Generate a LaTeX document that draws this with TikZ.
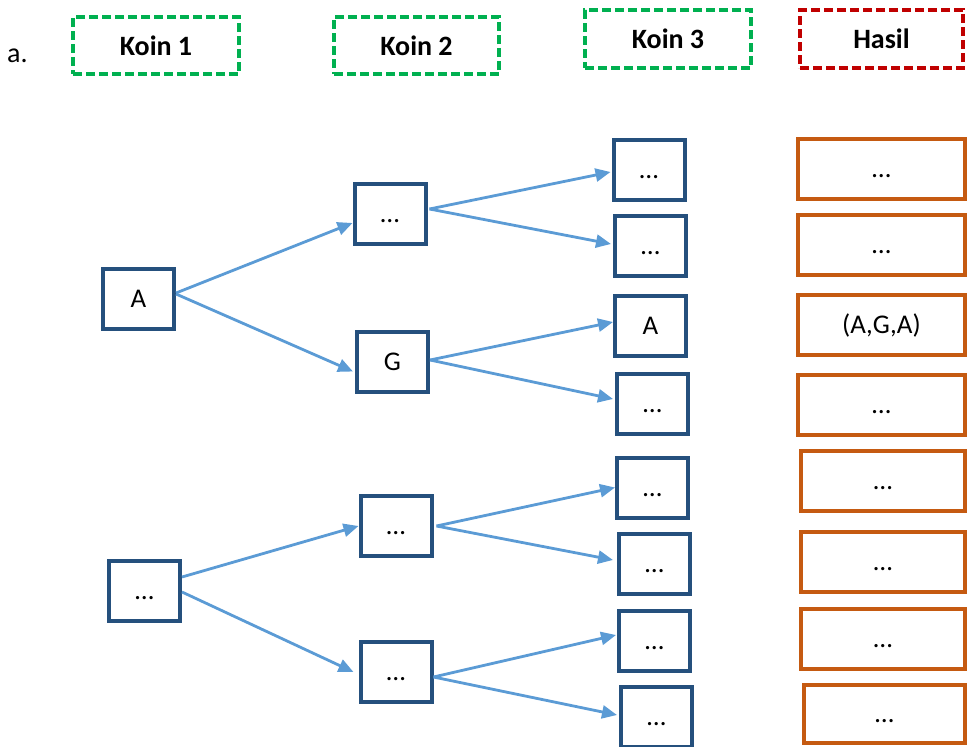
\documentclass[tikz,border=0pt]{standalone}
\usepackage{fontspec}
\setmainfont{Carlito}
\usetikzlibrary{arrows.meta}
\definecolor{boxblue}{RGB}{37,80,125}
\definecolor{arrblue}{RGB}{91,155,213}
\definecolor{resorange}{RGB}{197,90,17}
\definecolor{hdrgreen}{RGB}{0,176,80}
\definecolor{hdrred}{RGB}{192,0,0}
\tikzset{
  bbox/.style={draw=boxblue, line width=4pt, rectangle, inner sep=0pt,
    minimum width=71pt, minimum height=60pt,
    font=\fontsize{27}{32}\selectfont, text height=17.4pt, text depth=0pt},
  rbox/.style={draw=resorange, line width=4pt, rectangle, inner sep=0pt,
    minimum height=60pt,
    font=\fontsize{27}{32}\selectfont, text height=17.4pt, text depth=0pt},
  hbox/.style={line width=3.6pt, dash pattern=on 9pt off 4pt, rectangle, inner sep=0pt,
    minimum height=57pt,
    font=\bfseries\fontsize{28}{32}\selectfont, text height=19pt, text depth=0pt},
  arr/.style={draw=arrblue, line width=2.8pt, -{Triangle[length=15pt,width=13pt]}}
}
\begin{document}
\begin{tikzpicture}[x=1pt,y=-1pt]
\useasboundingbox (0,0) rectangle (967,747);
\clip (0,0) rectangle (967,747);
% label
\node[anchor=base west, inner sep=0pt, font=\fontsize{28}{32}\selectfont] (lbl) at (7,62) {a.};
% headers
\node[hbox, draw=hdrgreen, minimum width=166pt] (h1) at (156,45.5) {Koin 1};
\node[hbox, draw=hdrgreen, minimum width=165pt] (h2) at (416.5,45.5) {Koin 2};
\node[hbox, draw=hdrgreen, minimum width=166pt, minimum height=58pt] (h3) at (668,39) {Koin 3};
\node[hbox, draw=hdrred, minimum width=163pt, minimum height=58pt] (h4) at (881.5,39) {Hasil};
% coin 1
\node[bbox] (ka) at (138.5,299) {A};
\node[bbox] (kb) at (144.5,591) {…};
% coin 2
\node[bbox] (kaa) at (390,214) {…};
\node[bbox] (kab) at (392.5,361.5) {G};
\node[bbox] (kba) at (396,526) {…};
\node[bbox] (kbb) at (396,672) {…};
% coin 3
\node[bbox] (c1) at (649,170) {…};
\node[bbox] (c2) at (650.5,246) {…};
\node[bbox] (c3) at (650.5,325.5) {A};
\node[bbox] (c4) at (652.5,404) {…};
\node[bbox] (c5) at (652.5,487.5) {…};
\node[bbox] (c6) at (654.5,564) {…};
\node[bbox] (c7) at (654.5,641) {…};
\node[bbox] (c8) at (656.5,717) {…};
% results
\node[rbox, minimum width=167pt] (r1) at (881.5,169) {…};
\node[rbox, minimum width=167pt] (r2) at (881.5,244.5) {…};
\node[rbox, minimum width=167pt] (r3) at (881.5,325) {(A,G,A)};
\node[rbox, minimum width=167pt] (r4) at (881.5,405) {…};
\node[rbox, minimum width=164pt] (r5) at (883,481) {…};
\node[rbox, minimum width=164pt] (r6) at (883,561.5) {…};
\node[rbox, minimum width=164pt] (r7) at (883,639) {…};
\node[rbox, minimum width=161pt, minimum height=58pt] (r8) at (884.5,714) {…};
% arrows
\draw[arr] ([yshift=6pt]ka.east) -- ([yshift=-9pt]kaa.west);
\draw[arr] ([yshift=5pt]ka.east) -- ([yshift=-10pt,xshift=-2pt]kab.west);
\draw[arr] ([yshift=5pt,xshift=2pt]kaa.east) -- ([yshift=-2pt,xshift=-1pt]c1.west);
\draw[arr] ([yshift=5pt,xshift=2pt]kaa.east) -- ([yshift=2pt,xshift=-2pt]c2.west);
\draw[arr] ([yshift=1.5pt]kab.east) -- ([yshift=3.5pt]c3.west);
\draw[arr] ([yshift=1.5pt]kab.east) -- ([yshift=5pt,xshift=-2pt]c4.west);
\draw[arr] ([yshift=14pt]kb.east) -- (kba.west);
\draw[arr] ([yshift=-1pt]kb.east) -- ([xshift=-5pt]kbb.west);
\draw[arr] ([xshift=3pt]kba.east) -- (c5.west);
\draw[arr] ([xshift=3pt]kba.east) -- ([yshift=4pt,xshift=-4pt]c6.west);
\draw[arr] ([yshift=-5pt]kbb.east) -- ([yshift=6pt,xshift=-1pt]c7.west);
\draw[arr] ([yshift=-5pt]kbb.east) -- ([yshift=2pt,xshift=-2pt]c8.west);
\end{tikzpicture}
\end{document}
